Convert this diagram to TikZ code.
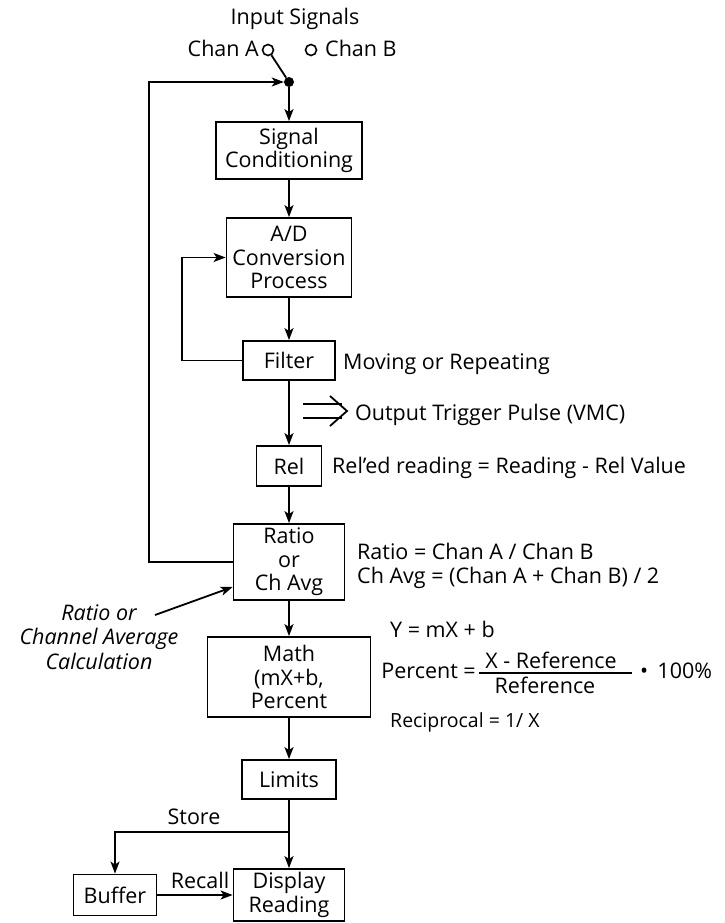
\documentclass[tikz,border=0pt]{standalone}
\usepackage{fontspec}
\setmainfont{Open Sans}
\usetikzlibrary{arrows.meta,positioning}

\tikzset{
  blk/.style={draw, line width=1.8pt, align=center, inner sep=0pt, font=\fontsize{21.5}{23.5}\selectfont},
  lbl/.style={inner sep=0pt, font=\fontsize{21.5}{23.5}\selectfont},
  small/.style={inner sep=0pt, font=\fontsize{19.5}{22}\selectfont},
  wire/.style={line width=1.8pt},
  flow/.style={line width=1.8pt, -{Stealth[length=12pt,width=9pt,inset=3pt]}},
}

\begin{document}
\begin{tikzpicture}[x=1pt, y=-1pt]
            \useasboundingbox (0,0) rectangle (724,923);
            % Inputs
            \node[lbl, anchor=base] (insig) at (295,25) {Input Signals};
            \node[circle, draw, line width=1.6pt, minimum size=11pt, inner sep=0pt] (cha) at (268,50) {};
            \node[circle, draw, line width=1.6pt, minimum size=11pt, inner sep=0pt] (chb) at (311,50) {};
            \node[lbl, anchor=base east] (chal) at (259,57) {Chan A};
            \node[lbl, anchor=base west] (chbl) at (325,57) {Chan B};
            \node[circle, fill, minimum size=10pt, inner sep=0pt] (sw) at (289,82) {};
            
            % Blocks
            \node[blk, minimum width=146pt, minimum height=57pt] (sig) at (289,150.5) {Signal\\Conditioning};
            \node[blk, minimum width=125pt, minimum height=79pt] (ad) at (289,257.5) {A/D\\Conversion\\Process};
            \node[blk, minimum width=92pt, minimum height=39pt] (filt) at (289,360.5) {Filter};
            \node[blk, minimum width=65pt, minimum height=40pt] (rel) at (289,466) {Rel};
            \node[blk, minimum width=111pt, minimum height=76pt] (ratio) at (289,562) {Ratio\\or\\Ch Avg};
            \node[blk, minimum width=163pt, minimum height=80pt] (math) at (289,677) {Math\\(mX+b,\\Percent};
            \node[blk, minimum width=94pt, minimum height=39pt] (lim) at (289,779.5) {Limits};
            \node[blk, minimum width=111pt, minimum height=52pt] (disp) at (289,895) {Display\\Reading};
            \node[blk, minimum width=83pt, minimum height=41pt] (buf) at (115,895) {Buffer};
            
            % Notes
            \node[lbl, anchor=base west] (movl) at (343,369) {Moving or Repeating};
            \node[lbl, anchor=base west] (trigl) at (355,420) {Output Trigger Pulse (VMC)};
            \node[lbl, anchor=base west] (rell) at (332,473) {Rel’ed reading = Reading - Rel Value};
            \node[lbl, anchor=base west] (ratl) at (357,559) {Ratio = Chan A / Chan B};
            \node[lbl, anchor=base west] (avgl) at (357,583) {Ch Avg = (Chan A + Chan B) / 2};
            \node[lbl, align=center, font=\fontsize{21.5}{24.5}\selectfont\itshape] (calc) at (99,637) {Ratio or\\Channel Average\\Calculation};
            \node[lbl, anchor=base west] (linl) at (390,637) {Y = mX + b};
            \node[lbl, anchor=base east] (pctl) at (476,678) {Percent =};
            \node[lbl, anchor=base] (num) at (551,668) {X - Reference};
            \node[lbl, anchor=base] (den) at (545,693) {Reference};
            \node[lbl, anchor=base west] (hund) at (640,678) {•\, 100\%};
            \node[small, anchor=base west] (recl) at (390,727) {Reciprocal = 1/ X};
            \node[lbl, anchor=base] (storel) at (194,824) {Store};
            \node[lbl, anchor=base] (recall) at (200,888) {Recall};
            
            \coordinate (st) at (289,832);
            \coordinate (calcpt) at (155,615);
            
            % Connections
            \draw[wire] (cha) -- (sw);
            \draw[flow] (ratio.west) -- ++(-84,0) |- (sw.west);
            \draw[flow] (sw) -- (sig);
            \draw[flow] (sig) -- (ad);
            \draw[flow] (ad) -- (filt);
            \draw[flow] (filt.west) -- ++(-60,0) |- (ad.west);
            \draw[flow] (filt) -- (rel);
            \draw[flow] (rel) -- (ratio);
            \draw[flow] (calcpt) -- ([yshift=-25pt]ratio.west);
            \draw[flow] (ratio) -- (math);
            \draw[flow] (math) -- (lim);
            \draw[flow] (lim) -- (disp);
            \draw[flow] (st) -| (buf);
            \draw[flow] (buf) -- (disp);
            \draw[wire] (479,673) -- (632,673);
            
            % Trigger pulse symbol
            \draw[wire] (303,404) -- (342,404) (303,418) -- (342,418);
            \draw[wire] (330,396) -- (347,411) -- (330,426);
        \end{tikzpicture}
\end{document}
